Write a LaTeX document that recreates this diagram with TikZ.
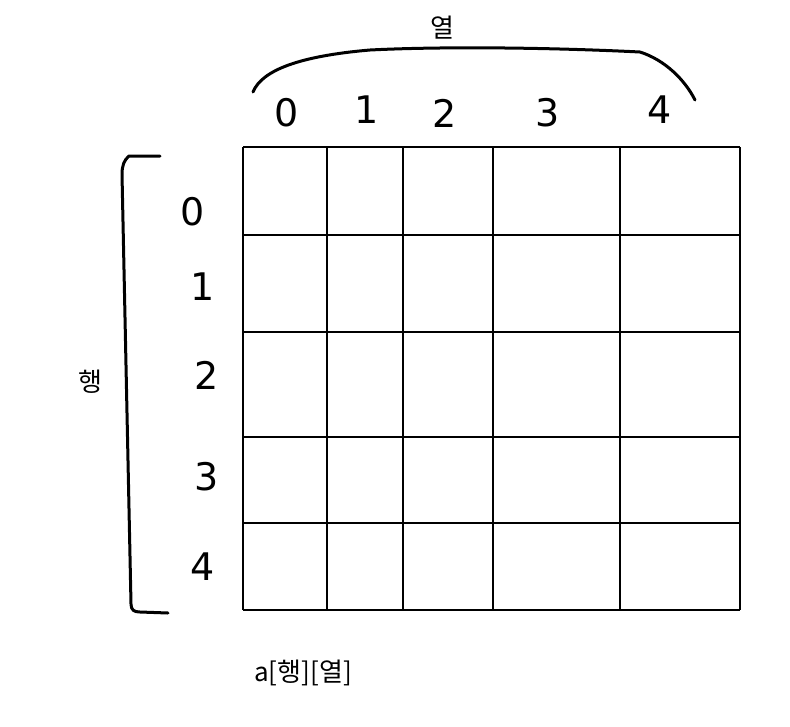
\documentclass[tikz,border=0pt]{standalone}
\usepackage{fontspec}
\setmainfont{DejaVu Sans}
\newfontfamily\kr{Noto Sans CJK KR}
\begin{document}
\begin{tikzpicture}[x=1pt,y=-1pt,
  gridline/.style={line width=2.8pt},
  hand/.style={line width=3pt,line cap=round,line join=round},
  digit/.style={font=\fontsize{38}{38}\selectfont\fontspec{DejaVu Sans}},
  krlabel/.style={font=\kr\fontsize{26}{26}\selectfont}]
\useasboundingbox (0,0) rectangle (790,726);
\fill[white] (0,0) rectangle (790,726);
% grid
\foreach \x in {243,327,403,493,620,740}
  \draw[gridline] (\x,147) -- (\x,610);
\foreach \y in {147,235,332,437,523,610}
  \draw[gridline] (243,\y) -- (740,\y);
% top brace
\draw[hand] (253,92) .. controls (262,70) and (300,56) .. (370,50)
  .. controls (450,46) and (560,48) .. (640,52)
  .. controls (665,60) and (685,80) .. (695,100);
% left bracket
\draw[hand] (160,156) -- (129,156) .. controls (124,160) and (122,166) .. (122,174)
  -- (131,604) .. controls (131,610) and (134,612) .. (140,612) -- (168,613);
% column digits
\node[digit] (c0) at (287,113) {0};
\node[digit] (c1) at (367,110) {1};
\node[digit] (c2) at (445,113) {2};
\node[digit] (c3) at (548,113) {3};
\node[digit] (c4) at (660,110) {4};
% row digits
\node[digit] (r0) at (193,212) {0};
\node[digit] (r1) at (203,287) {1};
\node[digit] (r2) at (207,375) {2};
\node[digit] (r3) at (207,477) {3};
\node[digit] (r4) at (203,567) {4};
% labels
\node[krlabel] (col) at (442,28) {열};
\node[krlabel] (row) at (90,382) {행};
\node[krlabel] (arr) at (303,673) {a[행][열]};
\end{tikzpicture}
\end{document}
